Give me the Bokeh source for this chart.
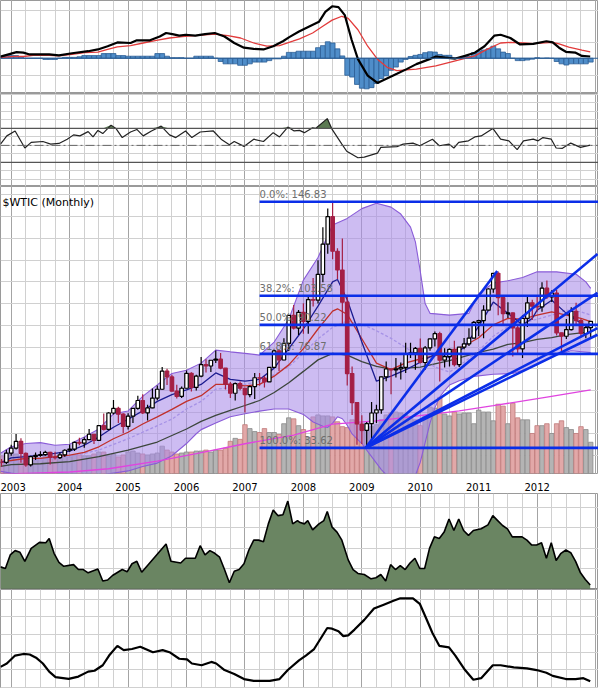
import numpy as np
from bokeh.plotting import figure
from bokeh.layouts import column
from bokeh.models import Range1d, FixedTicker, Grid, Label, Span
from bokeh.embed import file_html
from bokeh.resources import INLINE
from bokeh.core.properties import value

# ---------------- DATA (month index: Jan 2003 = 0, first bar Nov 2002) ----------------
first_month = -2
opens = [27.00, 26.89,
         31.20, 33.51, 36.60, 31.04, 25.80, 29.56, 30.19, 30.54, 31.57, 29.20, 29.11, 30.41,
         32.52, 33.05, 36.16, 35.76, 37.38, 39.88, 37.05, 43.80, 42.12, 49.64, 51.76, 49.13,
         43.45, 48.20, 51.75, 55.40, 49.72, 51.97, 56.50, 60.57, 68.94, 66.24, 59.76, 57.32,
         61.04, 67.92, 61.41, 66.63, 71.88, 71.29, 73.93, 74.40, 70.26, 62.91, 58.73, 63.13,
         61.05, 58.14, 61.79, 65.87, 65.71, 64.01, 70.68, 78.21, 74.04, 81.66, 94.53, 88.71,
         95.98, 91.75, 101.84, 101.58, 113.46, 127.35, 140.00, 124.08, 115.46, 100.64, 67.81, 54.43,
         44.60, 41.68, 44.76, 49.66, 51.12, 66.31, 69.89, 69.45, 69.96, 70.61, 77.00, 77.28,
         79.36, 72.89, 79.66, 83.76, 86.15, 73.97, 75.63, 78.95, 71.92, 79.97, 81.43, 84.11,
         91.38, 92.19, 96.97, 106.72, 113.93, 102.70, 95.42, 95.70, 88.81, 79.20, 93.19, 100.36,
         98.83, 98.48, 107.07, 103.02, 104.87, 86.53, 84.96, 88.06, 96.47, 92.19, 86.24, 88.91]
highs = [28.50, 32.70,
         35.00, 39.99, 38.00, 31.50, 30.00, 31.50, 32.00, 32.30, 31.80, 31.80, 31.50, 33.00,
         35.20, 36.50, 38.30, 38.50, 42.30, 40.00, 44.00, 49.40, 50.00, 55.67, 52.50, 49.50,
         49.50, 52.00, 57.60, 58.30, 53.50, 60.90, 62.30, 70.85, 70.00, 67.30, 62.60, 61.80,
         69.20, 68.40, 67.20, 75.40, 74.40, 74.00, 78.40, 77.30, 70.30, 63.90, 63.70, 64.20,
         61.30, 62.30, 68.10, 68.10, 66.70, 70.70, 78.80, 78.80, 84.10, 94.70, 99.30, 97.00,
         100.10, 103.10, 111.80, 119.90, 135.10, 143.70, 146.83, 125.50, 130.00, 103.90, 71.00, 54.50,
         48.60, 45.50, 54.70, 53.50, 66.40, 73.40, 70.00, 75.00, 72.90, 82.00, 82.00, 80.00,
         83.95, 80.50, 83.80, 87.10, 87.00, 79.40, 79.30, 82.90, 80.00, 84.20, 88.60, 92.00,
         92.60, 99.20, 107.00, 114.00, 114.80, 103.40, 100.60, 95.90, 90.50, 94.65, 103.40, 101.80,
         103.70, 109.80, 110.60, 106.10, 106.40, 86.60, 92.90, 98.30, 100.40, 93.00, 90.30, 91.00]
lows = [25.00, 26.20,
        30.00, 32.80, 26.80, 24.90, 25.00, 28.00, 29.50, 30.00, 26.00, 28.30, 28.50, 29.50,
        31.80, 32.20, 34.80, 33.70, 37.30, 35.40, 37.00, 41.60, 41.70, 49.00, 45.00, 40.30,
        42.10, 45.00, 51.20, 49.20, 46.20, 51.80, 55.50, 60.30, 62.50, 59.50, 56.30, 56.50,
        61.00, 59.50, 60.00, 66.10, 68.30, 68.50, 72.70, 69.80, 60.50, 56.60, 55.40, 60.10,
        49.90, 56.90, 56.10, 62.20, 61.40, 64.00, 70.60, 69.00, 73.90, 78.20, 88.10, 85.50,
        86.10, 86.10, 98.70, 100.00, 109.80, 122.90, 120.40, 111.30, 90.50, 62.30, 48.70, 35.00,
        35.40, 33.62, 37.50, 45.00, 49.30, 64.30, 58.30, 66.00, 65.10, 68.00, 75.00, 69.50,
        72.40, 69.50, 78.30, 80.20, 64.20, 70.60, 71.00, 71.00, 70.80, 79.00, 80.50, 84.00,
        85.10, 84.10, 96.80, 105.00, 94.60, 89.70, 93.40, 75.70, 77.10, 74.95, 89.20, 92.50,
        96.20, 96.30, 102.10, 100.70, 85.30, 77.30, 83.70, 87.60, 90.00, 84.40, 84.10, 84.60]
closes = [26.89, 31.20,
          33.51, 36.60, 31.04, 25.80, 29.56, 30.19, 30.54, 31.57, 29.20, 29.11, 30.41, 32.52,
          33.05, 36.16, 35.76, 37.38, 39.88, 37.05, 43.80, 42.12, 49.64, 51.76, 49.13, 43.45,
          48.20, 51.75, 55.40, 49.72, 51.97, 56.50, 60.57, 68.94, 66.24, 59.76, 57.32, 61.04,
          67.92, 61.41, 66.63, 71.88, 71.29, 73.93, 74.40, 70.26, 62.91, 58.73, 63.13, 61.05,
          58.14, 61.79, 65.87, 65.71, 64.01, 70.68, 78.21, 74.04, 81.66, 94.53, 88.71, 95.98,
          91.75, 101.84, 101.58, 113.46, 127.35, 140.00, 124.08, 115.46, 100.64, 67.81, 54.43, 44.60,
          41.68, 44.76, 49.66, 51.12, 66.31, 69.89, 69.45, 69.96, 70.61, 77.00, 77.28, 79.36,
          72.89, 79.66, 83.76, 86.15, 73.97, 75.63, 78.95, 71.92, 79.97, 81.43, 84.11, 91.38,
          92.19, 96.97, 106.72, 113.93, 102.70, 95.42, 95.70, 88.81, 79.20, 93.19, 100.36, 98.83,
          98.48, 107.07, 103.02, 104.87, 86.53, 84.96, 88.06, 96.47, 92.19, 86.24, 88.91, 91.82]
volume = [18, 20,
          22, 20, 17, 15, 14, 14, 16, 18, 15, 17, 16, 18,
          17, 19, 19, 18, 18, 20, 22, 22, 18, 20, 17, 19,
          22, 23, 21, 20, 19, 20, 21, 28, 24, 22, 20, 21,
          22, 22, 23, 23, 24, 22, 24, 24, 26, 33, 36, 35,
          50, 46, 43, 42, 46, 42, 42, 40, 51, 57, 56, 49,
          45, 37, 58, 60, 59, 59, 58, 53, 48, 47, 55, 51,
          43, 45, 48, 50, 55, 60, 62, 63, 62, 60, 58, 55,
          49, 59, 68, 67, 78, 61, 59, 63, 61, 62, 62, 51,
          65, 63, 63, 54, 71, 69, 51, 72, 57, 55, 55, 41,
          49, 49, 51, 41, 51, 54, 47, 45, 41, 48, 45, 32]

# overlays on the price panel (month, price)
navy_month = [-2.2, 0, 3, 6, 9, 12, 15, 18, 21, 24, 27, 30, 33, 36, 39, 42, 45, 48, 51, 54, 57, 60, 63,
              66, 67, 69, 72, 75, 78, 81, 84, 87, 90, 93, 96, 99, 102, 105, 107, 108, 111, 114, 117, 119]
navy_value = [26.6, 29.0, 29.6, 30.3, 31.1, 32.1, 34.8, 38.6, 43.1, 46.8, 50.6, 55.0, 58.1, 60.3, 62.8,
              68.1, 65.1, 64.3, 65.1, 70.3, 79.3, 88.3, 98.8, 110.0, 111.1, 101.8, 82.3, 64.3, 66.6,
              69.5, 73.0, 76.7, 75.3, 79.8, 89.5, 100.7, 95.5, 90.2, 93.2, 97.0, 101.5, 95.5, 91.0, 88.7]
red_month = [-2.2, 0, 3, 6, 9, 12, 15, 18, 21, 24, 27, 30, 33, 36, 39, 42, 45, 48, 51, 54, 57, 60, 63,
             66, 67, 69, 72, 75, 78, 81, 84, 87, 90, 93, 96, 99, 102, 105, 108, 111, 114, 117, 119]
red_value = [27.3, 27.8, 28.8, 28.8, 29.6, 30.3, 31.5, 34.1, 37.8, 40.8, 44.6, 47.9, 51.3, 55.0, 57.6,
             62.8, 62.8, 62.1, 62.8, 66.6, 71.8, 79.3, 88.3, 96.5, 97.6, 95.0, 83.8, 72.6, 69.6, 72.7,
             74.5, 76.0, 77.5, 80.5, 84.3, 90.2, 93.2, 92.8, 94.7, 96.2, 94.7, 93.2, 91.7]
mid_month = [-2.2, 0, 6, 12, 18, 24, 27, 30, 33, 36, 39, 42, 45, 48, 51, 54, 57, 60, 63, 66, 69, 72,
             75, 78, 81, 84, 87, 90, 93, 96, 99, 102, 105, 108, 111, 114, 117, 119]
mid_value = [27.0, 27.3, 28.1, 29.6, 32.6, 37.8, 40.8, 43.8, 46.8, 51.5, 55.0, 60.6, 61.3, 62.8, 64.3,
             67.3, 71.1, 77.1, 83.8, 89.0, 92.0, 90.5, 87.5, 84.0, 79.8, 75.3, 70.8, 68.5, 73.0, 78.3,
             85.0, 89.5, 91.0, 92.8, 94.7, 97.0, 96.2, 94.7]
gray_month = [-2.2, 0, 6, 12, 18, 24, 30, 36, 39, 42, 45, 48, 51, 54, 57, 60, 63, 66, 69, 72, 75, 78,
              84, 90, 96, 99, 102, 105, 108, 111, 114, 117, 119]
gray_value = [25.1, 25.9, 26.3, 27.3, 29.6, 32.6, 36.3, 42.3, 45.8, 48.6, 50.9, 53.1, 55.4, 59.1, 63.6,
              68.8, 74.1, 77.1, 76.3, 73.3, 71.1, 69.8, 70.8, 73.8, 77.5, 79.0, 81.2, 82.0, 83.5, 84.3,
              85.7, 86.5, 86.8]
long_month = [-2.2, 12, 20, 30, 38, 48, 58, 66, 75, 86, 92, 99, 110, 119]
long_value = [21.5, 22.5, 24.0, 27.5, 31.0, 35.5, 39.5, 44.5, 46.0, 49.0, 50.6, 53.0, 57.0, 60.3]
upper_month = [-2.2, 0, 3, 6, 9, 12, 15, 18, 21, 24, 27, 30, 33, 36, 39, 42, 45, 48, 51, 54, 57, 60,
               63, 66, 69, 72, 75, 78, 80, 82, 83, 84, 85, 86, 90, 94, 96, 99, 102, 105, 108, 112,
               116, 118, 119]
upper_value = [31.1, 34.1, 35.6, 36.0, 34.8, 35.3, 38.6, 42.3, 49.3, 50.6, 57.3, 62.6, 67.8, 69.3,
               72.6, 78.6, 77.8, 77.1, 76.3, 82.3, 92.8, 110.8, 121.2, 136.2, 139.2, 143.7, 146.2,
               144.4, 141.2, 135.2, 128.4, 114.9, 100.0, 95.5, 94.7, 95.5, 104.5, 109.5, 110.5, 112.0,
               114.6, 114.6, 113.5, 110.0, 107.0]
lower_month = [-2.2, 0, 3, 18, 21, 24, 27, 30, 33, 36, 38, 39, 42, 45, 48, 51, 54, 57, 60, 62, 64, 65,
               66, 67, 68, 69, 70, 72, 74, 76, 78, 81, 83, 84, 85, 86, 87, 88, 89, 90, 92, 95, 99,
               103, 106, 109, 112, 115, 119]
lower_value = [22.8, 22.0, 21.0, 21.0, 22.0, 23.0, 25.0, 26.6, 30.0, 35.6, 40.1, 42.0, 45.0, 47.9,
               49.3, 50.5, 51.5, 51.5, 49.0, 45.5, 43.5, 43.0, 45.0, 47.9, 47.0, 44.0, 40.0, 35.6,
               29.6, 23.6, 19.0, 17.0, 21.0, 27.0, 36.0, 45.0, 52.0, 57.0, 60.0, 62.5, 64.5, 66.5,
               67.5, 67.8, 70.0, 73.0, 76.5, 78.3, 77.5]

fib_levels = [146.83, 103.58, 90.22, 76.87, 33.62]
fib_labels = ["0.0%: 146.83", "38.2%: 103.58", "50.0%: 90.22", "61.8%: 76.87", "100.0%: 33.62"]
fib_start_month = 51
fan_origin_month = 72.8
fan_origin_price = 33.62
fan_end_month = [99.8, 120.4, 120.4, 120.4, 120.4]
fan_end_price = [115.0, 122.8, 105.0, 88.7, 85.7]

# MACD panel
macd_month = [-2.2, 1.1, 2.5, 3.8, 7.8, 9.8, 12.5, 15.8, 17.8, 19.8, 21.8, 24.5, 25.8, 28.5, 30.5,
              31.8, 33.1, 34.5, 35.8, 37.8, 39.8, 41.8, 43.8, 45.8, 47.8, 49.8, 51.8, 53.8, 55.8,
              57.1, 59.1, 61.2, 63.2, 64.5, 65.9, 67.2, 68.5, 69.9, 71.2, 73.2, 75.2, 79.2, 81.2,
              83.2, 85.9, 87.2, 89.2, 91.2, 93.2, 95.2, 97.2, 99.2, 100.5, 102.5, 104.5, 107.2,
              109.9, 111.2, 112.5, 113.9, 115.9, 117.2, 118.9]
macd_value = [0.56, 2.1, 1.9, 1.3, 1.3, 1.0, 1.7, 2.4, 3.0, 4.1, 5.4, 5.2, 6.1, 6.1, 7.4, 8.6, 8.2,
              7.7, 8.0, 7.7, 8.2, 8.6, 7.4, 5.2, 3.6, 3.2, 3.0, 4.1, 5.8, 7.2, 9.1, 10.8, 12.4, 15.8,
              17.7, 17.4, 14.7, 6.3, -0.3, -5.9, -8.4, -5.3, -3.7, -2.0, -0.3, 0.6, 0.2, -0.1, 0.8,
              1.9, 4.1, 7.7, 8.0, 6.9, 4.7, 4.9, 5.8, 5.4, 3.6, 2.2, 1.9, 0.8, 0.6]
signal_month = [-2.2, 0.5, 2.5, 4.5, 7.8, 9.8, 12.5, 15.1, 17.8, 19.8, 21.8, 24.5, 27.1, 29.8, 32.5,
                35.1, 37.8, 41.8, 44.5, 47.1, 49.8, 52.5, 55.1, 57.8, 59.2, 61.9, 63.9, 65.9, 67.9,
                69.2, 71.2, 73.2, 75.2, 77.2, 79.2, 83.2, 87.2, 91.2, 95.2, 97.9, 100.5, 102.5,
                105.2, 107.2, 111.2, 112.5, 114.5, 117.2, 118.9]
signal_value = [0.2, 0.6, 0.6, 1.0, 1.0, 0.8, 1.3, 1.9, 2.1, 3.0, 3.9, 4.3, 5.2, 6.1, 6.9, 7.4, 7.7,
                8.2, 7.7, 6.9, 5.2, 4.1, 4.3, 5.8, 6.6, 8.6, 10.8, 13.0, 14.3, 13.6, 9.7, 4.1, -0.3,
                -3.1, -4.2, -3.7, -2.6, -0.9, 0.8, 3.2, 5.2, 5.4, 5.2, 5.0, 5.4, 4.9, 3.8, 2.8, 2.2]
histogram = [0.6, 0.9,
             0.9, 0.9, 0.5, 0.0, 0.0, 0.0, 0.0, -0.4, -0.4, -0.4, 0.0, 0.3,
             0.3, 0.3, 0.5, 0.9, 0.9, 0.9, 0.9, 1.6, 1.6, 1.6, 0.9, 0.9,
             0.7, 0.7, 0.7, 0.7, 0.7, 0.7, 1.6, 1.6, 0.7, 0.2, 0.2, 0.2,
             0.0, 0.0, 0.7, 0.7, 0.7, 0.7, 0.0, -1.1, -1.9, -1.9, -1.9, -2.4,
             -2.4, -1.9, -1.3, -1.3, -1.3, -0.8, -0.2, -0.2, 0.7, 2.0, 2.0, 2.4,
             2.4, 2.4, 2.4, 3.6, 4.3, 5.6, 5.2, 3.2, 0.8, -5.8, -6.4, -8.9,
             -10.2, -10.4, -10.0, -8.6, -6.9, -6.0, -4.1, -3.0, -1.3, -0.4, 0.6, 1.0,
             1.3, 1.9, 2.2, 2.1, 1.3, 1.0, 1.0, 0.1, 0.1, 0.2, 0.6, 1.9,
             2.4, 2.8, 3.2, 4.1, 3.2, 2.1, 1.6, 0.0, -0.8, -0.8, -0.6, -0.3,
             0.2, 0.0, 0.1, 0.0, -1.1, -1.9, -2.3, -1.9, -1.9, -1.9, -1.9, -1.3]

# RSI panel
rsi_month = [-2.2, -0.9, 0.8, 2.8, 4.1, 6.5, 8.1, 9.8, 11.5, 12.8, 14.1, 15.8, 16.8, 17.8, 18.8,
             20.5, 21.5, 22.8, 24.5, 25.8, 27.1, 28.8, 30.8, 32.5, 33.8, 35.8, 37.1, 38.8, 41.5,
             43.1, 44.8, 45.8, 47.8, 49.8, 51.8, 53.8, 55.1, 56.8, 58.1, 59.2, 60.2, 61.9, 62.5,
             64.9, 65.9, 67.9, 68.9, 71.2, 72.5, 75.2, 75.9, 79.2, 80.5, 82.5, 83.9, 86.5, 87.9,
             89.9, 90.9, 91.9, 93.9, 95.2, 96.5, 98.9, 100.5, 102.2, 103.9, 105.2, 107.2, 108.2,
             109.2, 110.9, 111.9, 113.2, 114.9, 116.9, 118.9]
rsi_value = [51.5, 61.2, 67.0, 46.9, 53.5, 54.6, 51.5, 52.3, 57.3, 62.4, 61.2, 66.2, 60.0, 67.7,
             63.9, 73.9, 70.0, 59.2, 65.8, 68.8, 61.2, 67.0, 72.7, 62.4, 59.2, 67.0, 59.2, 65.8,
             67.0, 57.3, 50.8, 54.6, 48.8, 57.3, 54.6, 65.0, 60.0, 71.6, 67.0, 67.7, 65.0, 70.8,
             70.0, 81.6, 68.8, 51.5, 43.1, 35.4, 36.1, 40.8, 47.7, 48.5, 51.5, 52.7, 49.6, 57.3,
             49.6, 51.5, 46.9, 53.5, 55.4, 60.0, 61.2, 70.0, 57.3, 55.4, 45.0, 55.4, 57.3, 55.4,
             59.2, 57.3, 46.9, 46.5, 52.7, 47.7, 50.4]

# lower indicator panels
area_month = [-2.2, -1.2, -0.2, 0.8, 1.8, 2.8, 4.1, 5.8, 7.1, 7.8, 8.8, 9.8, 10.8, 12.8, 13.8, 14.8,
              15.8, 17.8, 18.8, 19.8, 20.8, 22.8, 23.8, 24.8, 25.8, 26.8, 31.8, 32.8, 34.8, 35.8,
              37.8, 38.8, 39.8, 40.8, 41.8, 42.8, 43.8, 44.8, 45.8, 46.8, 47.8, 48.8, 49.8, 50.8,
              51.8, 52.8, 53.8, 54.8, 55.8, 56.8, 57.8, 58.8, 59.2, 60.2, 60.9, 61.9, 63.2, 64.2,
              64.9, 65.9, 66.9, 67.9, 69.2, 70.2, 71.2, 72.5, 73.9, 74.9, 75.9, 76.9, 77.9, 78.9,
              79.9, 80.9, 81.9, 82.9, 83.9, 84.9, 85.9, 86.9, 87.9, 88.9, 89.9, 90.9, 91.9, 92.9,
              93.9, 94.9, 96.5, 97.9, 98.9, 99.9, 100.9, 101.9, 102.9, 104.9, 105.9, 106.9, 107.9,
              108.9, 109.9, 110.9, 111.9, 112.9, 113.9, 114.9, 115.9, 116.9, 117.9, 118.9]
area_value = [1.10, 1.02, 1.68, 1.89, 1.81, 1.37, 2.00, 2.29, 2.27, 2.48, 1.76, 1.32, 1.13, 1.21,
              0.97, 0.97, 0.81, 1.00, 0.41, 0.46, 0.68, 0.97, 0.86, 1.25, 1.37, 0.84, 2.21, 1.37,
              1.29, 1.52, 1.52, 2.13, 1.68, 1.89, 1.76, 1.57, 0.97, 0.33, 0.89, 0.97, 1.25, 1.92,
              2.40, 2.40, 2.32, 3.19, 3.86, 3.59, 3.63, 4.30, 3.19, 3.35, 3.27, 3.19, 3.35, 2.90,
              3.19, 3.35, 3.79, 3.03, 2.79, 2.40, 1.44, 0.97, 0.78, 0.73, 0.52, 0.57, 0.73, 0.41,
              1.21, 0.97, 1.16, 0.97, 1.29, 1.52, 1.02, 1.02, 2.00, 2.56, 2.48, 2.79, 3.43, 2.87,
              3.43, 2.87, 2.63, 2.87, 2.95, 3.14, 3.59, 3.35, 3.11, 2.95, 2.56, 2.56, 2.40, 2.16,
              2.16, 2.27, 1.52, 2.27, 1.41, 1.76, 1.92, 1.79, 1.37, 0.81, 0.49, 0.22]
curve_month = [-2.2, -0.9, 0.8, 2.5, 3.8, 5.1, 6.5, 7.8, 9.1, 11.8, 13.8, 15.8, 17.1, 18.8, 20.1,
               21.8, 23.1, 24.8, 26.5, 29.1, 31.1, 32.5, 34.5, 36.1, 37.1, 39.1, 41.1, 42.1, 43.8,
               45.8, 47.8, 49.8, 53.1, 55.1, 56.8, 59.1, 60.5, 62.2, 64.9, 65.9, 67.2, 68.2, 69.2,
               70.5, 72.5, 74.5, 76.5, 78.5, 79.9, 82.5, 83.9, 85.2, 86.5, 87.9, 89.9, 91.2, 93.2,
               94.9, 96.5, 98.9, 100.5, 103.2, 105.9, 107.9, 109.9, 111.2, 113.9, 115.9, 117.5, 118.9]
curve_value = [1.17, 1.36, 1.81, 1.90, 1.87, 1.69, 1.36, 0.90, 0.59, 0.49, 0.62, 0.90, 0.95, 1.26,
               1.81, 2.36, 2.12, 2.18, 2.31, 2.00, 2.12, 2.00, 1.63, 1.59, 1.36, 1.26, 1.45, 1.36,
               0.99, 0.77, 0.48, 0.38, 0.38, 0.48, 0.99, 1.54, 1.81, 2.18, 3.37, 3.33, 3.19, 2.91,
               2.95, 3.28, 3.83, 4.47, 4.69, 4.91, 5.05, 5.05, 4.74, 3.92, 3.09, 2.36, 2.27, 1.81,
               0.99, 0.44, 0.53, 1.26, 1.26, 1.14, 1.08, 0.99, 0.84, 0.66, 0.48, 0.48, 0.53, 0.35]

year_names = ["2003", "2004", "2005", "2006", "2007", "2008", "2009", "2010", "2011", "2012"]

# ---------------- STYLE / LAYOUT ----------------
FONT = "DejaVu Sans"
W = 598
months = np.arange(first_month, first_month + len(closes))
o = np.array(opens); c = np.array(closes); h = np.array(highs); l = np.array(lows)
up = c >= o

x_range = Range1d(-2.2, 120.6)
quarter_ticks = list(range(0, 121, 3))
year_ticks = list(range(0, 121, 12))


def panel(frame_h, y0, y1, yticks, axis=False):
    p = figure(frame_width=W, frame_height=frame_h, x_range=x_range, y_range=Range1d(y0, y1),
               toolbar_location=None, output_backend="svg",
               x_axis_location="below" if axis else None, y_axis_location=None,
               min_border=0, background_fill_color="white", border_fill_color="white",
               outline_line_color="#9a9a9a")
    p.center = [r for r in p.center if not isinstance(r, Grid)]
    p.add_layout(Grid(dimension=0, ticker=FixedTicker(ticks=quarter_ticks),
                      grid_line_color="#d0d0d0"))
    p.add_layout(Grid(dimension=0, ticker=FixedTicker(ticks=year_ticks),
                      grid_line_color="#a4a4a4"))
    p.add_layout(Grid(dimension=1, ticker=FixedTicker(ticks=yticks),
                      grid_line_color="#d0d0d0"))
    return p


# ---- MACD ----
pA = panel(93, -12.0, 19.67, [-6.0, 5.3, 16.3])
pA.vbar(x=months, width=1.0, top=histogram, bottom=0, fill_color="#4f8dc9",
        line_color="#2b5d94", line_width=0.8)
pA.add_layout(Span(location=0, dimension="width", line_color="#2b5d94", line_width=1))
pA.line(signal_month, signal_value, line_color="#e23b3b", line_width=1.3)
pA.line(macd_month, macd_value, line_color="black", line_width=2.2)

# ---- RSI ----
pB = panel(93, 1.5, 111.2, list(range(10, 111, 10)))
pB.varea(x=rsi_month, y1=[70] * len(rsi_month), y2=np.maximum(np.array(rsi_value), 70),
         fill_color="#5b7a52")
pB.add_layout(Span(location=70, dimension="width", line_color="#555555", line_width=1.3))
pB.add_layout(Span(location=30, dimension="width", line_color="#555555", line_width=1.3))
pB.add_layout(Span(location=50, dimension="width", line_color="#666666", line_width=1,
                   line_dash="9 3 2 3"))
pB.line(rsi_month, rsi_value, line_color="#222222", line_width=1.2)

# ---- PRICE ----
pC = panel(287, 21.81, 153.88, list(range(30, 151, 10)), axis=True)
pC.xaxis.ticker = FixedTicker(ticks=year_ticks[:-1])
pC.xaxis.major_label_overrides = {t: n for t, n in zip(year_ticks, year_names)}
pC.xaxis.axis_line_color = None
pC.xaxis.major_tick_line_color = None
pC.xaxis.minor_tick_line_color = None
pC.xaxis.major_label_standoff = 3
pC.xaxis.major_label_text_font = FONT
pC.xaxis.major_label_text_font_size = "10px"
pC.xaxis.major_label_text_color = "black"

pC.extra_y_ranges = {"vol": Range1d(0, 294)}
pC.vbar(x=months, width=0.92, top=volume, bottom=0, y_range_name="vol",
        fill_color=np.where(up, "#b4b4b4", "#e2a8a8").tolist(),
        line_color=np.where(up, "#8a8a8a", "#c07a7a").tolist(), line_width=0.8)

band_x = list(upper_month) + list(lower_month)[::-1]
band_y = list(upper_value) + list(lower_value)[::-1]
pC.patch(band_x, band_y, fill_color="#a98be8", fill_alpha=0.58, line_color=None)
pC.line(upper_month, upper_value, line_color="#8a5cd8", line_width=1.1)
pC.line(lower_month, lower_value, line_color="#8a5cd8", line_width=1.1)

pC.line(long_month, long_value, line_color="#e044e0", line_width=1.3)
pC.line(gray_month, gray_value, line_color="#3c463c", line_width=1.3)
pC.line(mid_month, mid_value, line_color="#a692e6", line_width=1.3, line_dash="3 2")
pC.line(red_month, red_value, line_color="#c0302c", line_width=1.3)
pC.line(navy_month, navy_value, line_color="#1c1c90", line_width=1.3)

candle_col = np.where(up, "black", "#a41f45").tolist()
pC.segment(x0=months, y0=l, x1=months, y1=h, line_color=candle_col, line_width=1.2)
pC.vbar(x=months, width=0.72, top=np.maximum(o, c), bottom=np.minimum(o, c),
        fill_color=np.where(up, "white", "#a41f45").tolist(), line_color=candle_col,
        line_width=1.2)

pC.segment(x0=[fib_start_month] * len(fib_levels), y0=fib_levels,
           x1=[122] * len(fib_levels), y1=fib_levels, line_color="#0b2ee8", line_width=2.6)
pC.text(x=[fib_start_month] * len(fib_levels), y=fib_levels, text=fib_labels,
        text_font=value(FONT), text_font_size=value("10px"), text_color="#6e6e6e",
        text_baseline="bottom", y_offset=-2)
pC.segment(x0=[fan_origin_month] * len(fan_end_month), y0=[fan_origin_price] * len(fan_end_month),
           x1=fan_end_month, y1=fan_end_price, line_color="#0b2ee8", line_width=2.6)
pC.add_layout(Label(x=-1.8, y=149.6, text="$WTIC (Monthly)", text_font=FONT,
                    text_font_size="11px", text_baseline="top", text_color="black"))

# ---- green area indicator ----
pD = panel(96, 0, 4.667, [1, 2, 3, 4])
pD.varea(x=area_month, y1=[0] * len(area_month), y2=area_value, fill_color="#6a8562")
pD.line(area_month, area_value, line_color="black", line_width=1.6)
pD.add_layout(Span(location=0, dimension="width", line_color="#555555", line_width=1.5))

# ---- smooth line indicator ----
pE = panel(99, -0.055, 5.55, [0, 1, 2, 3, 4, 5])
pE.line(curve_month, curve_value, line_color="black", line_width=2.2)

layout = column(pA, pB, pC, pD, pE, spacing=0)
open("out.html", "w").write(file_html(layout, INLINE, title="$WTIC (Monthly)"))
